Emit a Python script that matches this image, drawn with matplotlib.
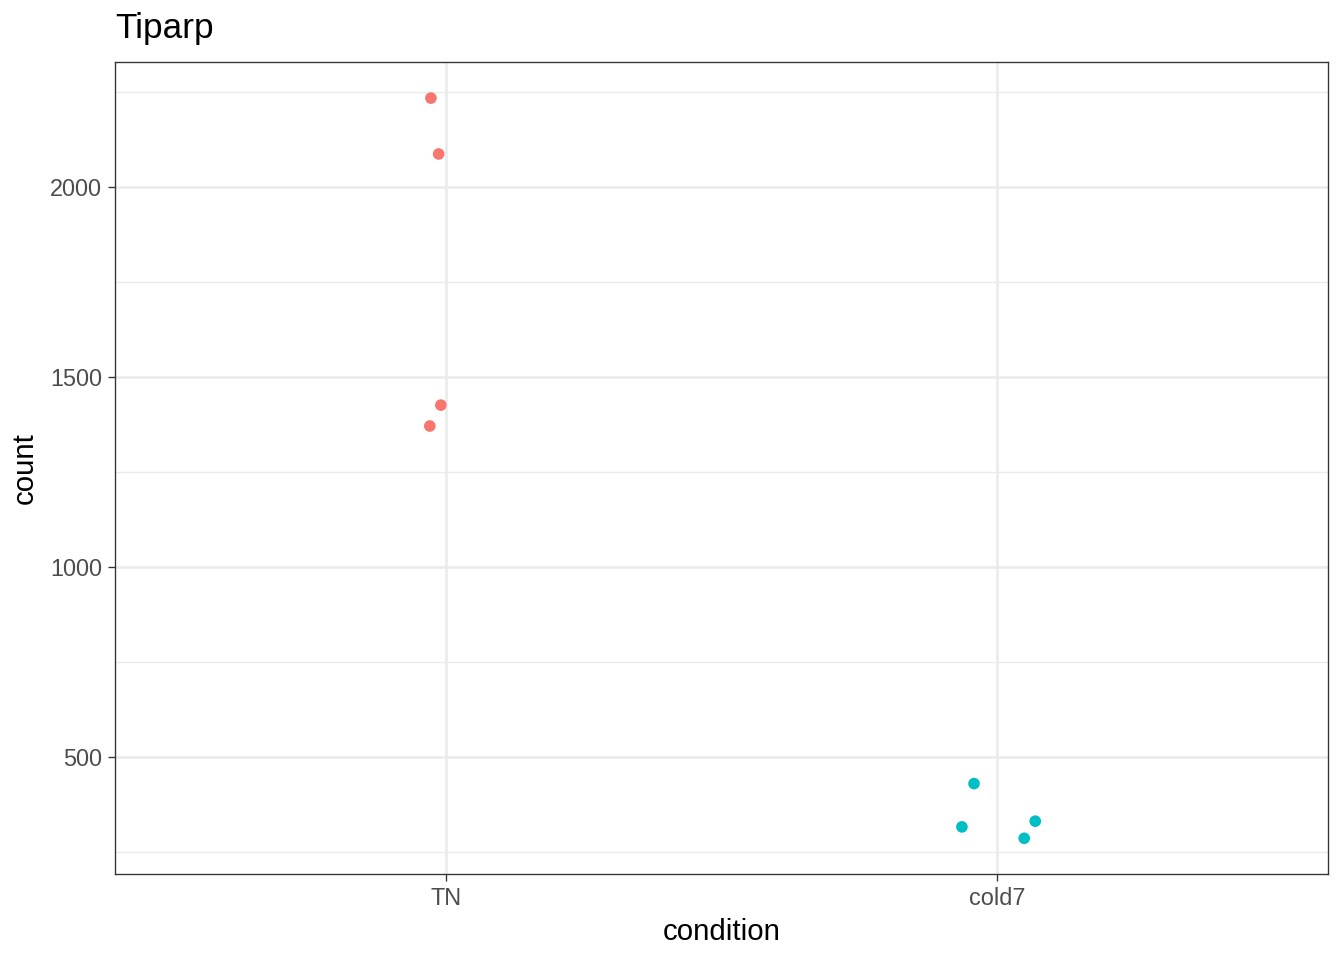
import matplotlib
matplotlib.use("Agg")
import matplotlib.pyplot as plt
import numpy as np

plt.rcParams["font.family"] = ["Liberation Sans", "DejaVu Sans"]

conditions = ["TN", "cold7"]
colors = {"TN": "#F8766D", "cold7": "#00BFC4"}

# per-sample counts and horizontal jitter
tn_counts = [2234, 2087, 1426, 1371]
tn_jitter = [-0.027, -0.013, -0.009, -0.029]
cold7_counts = [430, 316, 331, 286]
cold7_jitter = [-0.042, -0.064, 0.069, 0.049]

series = {
    "TN": (tn_counts, tn_jitter),
    "cold7": (cold7_counts, cold7_jitter),
}

fig = plt.figure(figsize=(7, 5), dpi=192)
ax = fig.add_axes([115 / 1344, 86 / 960, 1213 / 1344, 812 / 960])

for i, cond in enumerate(conditions):
    vals, jit = series[cond]
    x = i + 1 + np.array(jit)
    ax.scatter(x, vals, s=19, color=colors[cond], edgecolors="none", zorder=3)

ax.set_xlim(0.4, 2.6)
ax.set_ylim(192, 2329)
ax.set_xticks([1, 2])
ax.set_xticklabels(conditions)
ax.set_yticks([500, 1000, 1500, 2000])
ax.set_yticks([250, 750, 1250, 1750, 2250], minor=True)

ax.grid(True, which="major", color="#EBEBEB", linewidth=1.0, zorder=0)
ax.grid(True, which="minor", axis="y", color="#EBEBEB", linewidth=0.5, zorder=0)
ax.set_axisbelow(True)

for sp in ax.spines.values():
    sp.set_color("#333333")
    sp.set_linewidth(0.5)

ax.tick_params(axis="both", which="major", length=2.75, width=0.5,
               color="#333333", labelcolor="#4D4D4D", labelsize=8.8, pad=2.2)
ax.tick_params(axis="both", which="minor", length=0)

ax.set_xlabel("condition", fontsize=11, color="black", labelpad=3)
ax.set_ylabel("count", fontsize=11, color="black", labelpad=4)
ax.set_title("Tiparp", fontsize=13.2, loc="left", pad=9, color="black")

fig.savefig("out.png", dpi=192)
